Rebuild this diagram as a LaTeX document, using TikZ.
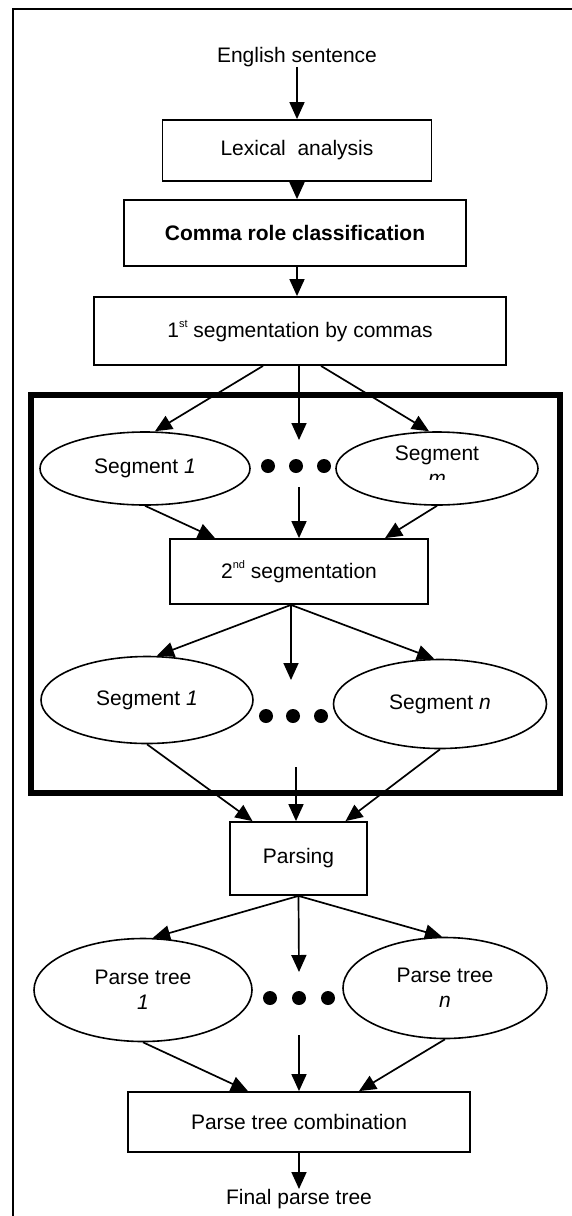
\documentclass[tikz,border=0pt]{standalone}
\usepackage{fontspec}
\setmainfont{Liberation Sans}
\usetikzlibrary{arrows.meta, shapes.geometric}
\tikzstyle{chart} = [x = 1pt, y = -1pt]
\tikzstyle{chartText} = [font=\fontsize{21}{25}\selectfont, align=center, inner sep=0pt]
\tikzstyle{flowBox} = [chartText, draw, rectangle, line width=1.8pt]
\tikzstyle{segEllipse} = [chartText, draw, ellipse, line width=1.6pt]
\tikzstyle{flowArrow} = [-{Triangle[length=17pt, width=15pt]}, line width=1.7pt]
\tikzstyle{dotStyle} = [fill=black, circle, minimum size=14pt, inner sep=0pt]
\tikzstyle{groupFrame} = [line width=5.5pt]
\tikzstyle{pageFrame} = [line width=2.5pt]
\newcommand{\ordSup}[1]{\raisebox{10pt}{\fontsize{11}{11}\selectfont #1}}

\begin{document}
\begin{tikzpicture}[chart]
        \useasboundingbox (0,0) rectangle (572,1216);
        \draw [pageFrame] (572,9) -- (13,9) -- (13,1216);

        % main column
        \node [chartText] (english) at (297,57) {English sentence};
        \node [flowBox, minimum width=269, minimum height=61] (lexical) at (297,150.5) {Lexical\ \ analysis};
        \node [flowBox, minimum width=342, minimum height=66, font=\fontsize{21}{25}\selectfont\bfseries] (comma) at (295,233) {Comma role classification};
        \node [flowBox, minimum width=412, minimum height=68] (firstSeg) at (300,331) {1\ordSup{st} segmentation by commas};

        % segmentation block
        \draw [groupFrame] (31,395) rectangle (560,793);
        \node [segEllipse, minimum width=210, minimum height=73] (segOneA) at (145,468.5) {Segment \textit{1}};
        \node [segEllipse, minimum width=202, minimum height=73] (segMA) at (437,468.5) {};
        \begin{scope}
          \clip (337,432) rectangle (540,479);
          \node [chartText] (segMAText) at (437,466) {Segment\\\textit{m}};
        \end{scope}
        \foreach \x/\y [count=\i] in {268/466, 296/466, 324/466} {
          \node [dotStyle] (dotA\i) at (\x,\y) {};
        }
        \node [flowBox, minimum width=258, minimum height=65] (secondSeg) at (299,571.5) {2\ordSup{nd} segmentation};
        \node [segEllipse, minimum width=212, minimum height=87] (segOneB) at (147,700) {Segment \textit{1}};
        \node [segEllipse, minimum width=213, minimum height=89] (segNB) at (440,704) {Segment \textit{n}};
        \foreach \x/\y [count=\i] in {266/716, 293/716, 321/716} {
          \node [dotStyle] (dotB\i) at (\x,\y) {};
        }

        % parsing
        \node [flowBox, minimum width=137, minimum height=73] (parsing) at (298.5,858.5) {Parsing};
        \node [segEllipse, minimum width=218, minimum height=103] (treeOne) at (143,990) {Parse tree\\\textit{1}};
        \node [segEllipse, minimum width=204, minimum height=101] (treeN) at (445,988) {Parse tree\\\textit{n}};
        \foreach \x/\y [count=\i] in {270/998, 299/998, 328/998} {
          \node [dotStyle] (dotC\i) at (\x,\y) {};
        }
        \node [flowBox, minimum width=342, minimum height=60] (combination) at (299,1122) {Parse tree combination};
        \node [chartText] (final) at (299,1199) {Final parse tree};

        % free ends of the middle arrows
        \coordinate (midA) at (299,440);
        \coordinate (midB) at (299,487);
        \coordinate (midC) at (291,680);
        \coordinate (midD) at (296,767);
        \coordinate (midE) at (299,972);
        \coordinate (midF) at (299,1035);

        \draw [flowArrow] (english) -- (lexical);
        \draw [flowArrow] (lexical) -- (comma.north -| lexical);
        \draw [flowArrow] (comma.south -| lexical) -- (firstSeg.north -| lexical);

        \draw [flowArrow] ([xshift=-37]firstSeg.south) -- ([xshift=10]segOneA.north);
        \draw [flowArrow] ([xshift=-1]firstSeg.south) -- (midA);
        \draw [flowArrow] ([xshift=21]firstSeg.south) -- ([xshift=-8]segMA.north);

        \draw [flowArrow] (segOneA.south) -- ([xshift=-84]secondSeg.north);
        \draw [flowArrow] (midB) -- (secondSeg.north);
        \draw [flowArrow] (segMA.south) -- ([xshift=86]secondSeg.north);

        \draw [flowArrow] ([xshift=-8]secondSeg.south) -- ([xshift=10]segOneB.north);
        \draw [flowArrow] ([xshift=-8]secondSeg.south) -- (midC);
        \draw [flowArrow] ([xshift=-8]secondSeg.south) -- ([xshift=-6]segNB.north);

        \draw [flowArrow] (segOneB.south) -- ([xshift=-46]parsing.north);
        \draw [flowArrow] (midD) -- (parsing.north -| midD);
        \draw [flowArrow] (segNB.south) -- ([xshift=47]parsing.north);

        \draw [flowArrow] (parsing.south) -- ([xshift=10]treeOne.north);
        \draw [flowArrow] (parsing.south) -- (midE);
        \draw [flowArrow] (parsing.south) -- ([xshift=-3]treeN.north);

        \draw [flowArrow] (treeOne.south) -- ([xshift=-51]combination.north);
        \draw [flowArrow] (midF) -- (combination.north);
        \draw [flowArrow] (treeN.south) -- ([xshift=60]combination.north);
        \draw [flowArrow] (combination) -- (final);
      \end{tikzpicture}
\end{document}
